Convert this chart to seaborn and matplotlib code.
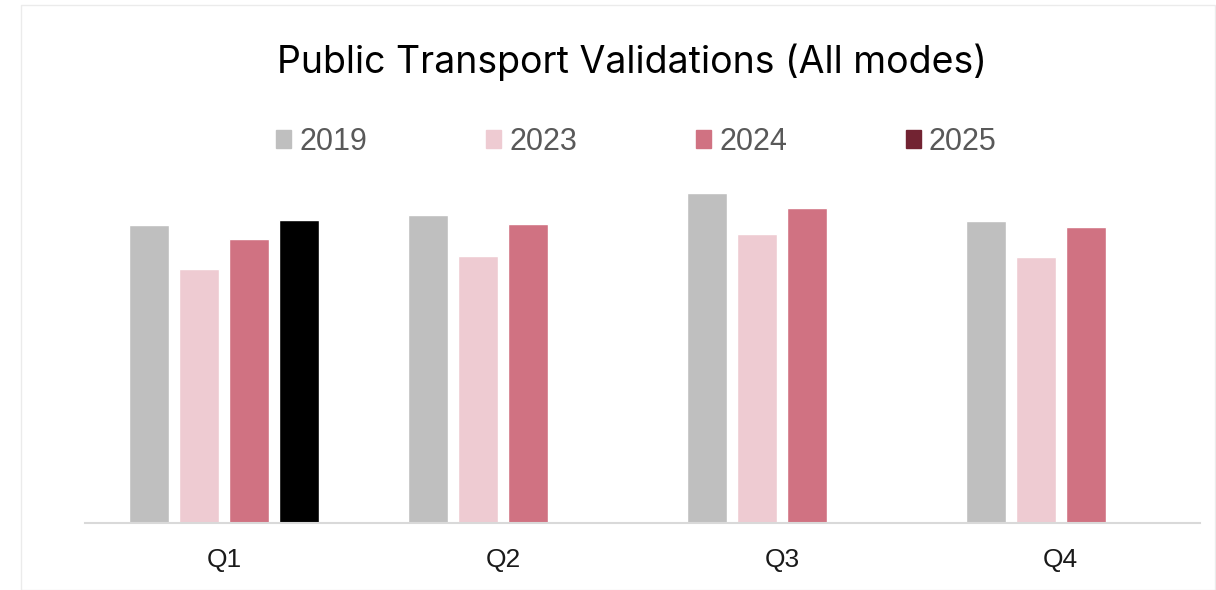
import numpy as np
import pandas as pd
import matplotlib.pyplot as plt
import matplotlib.patches as mpatches
import seaborn as sns

# datos (unidades arbitrarias, sin eje y visible)
trimestres = ['Q1', 'Q2', 'Q3', 'Q4']
anios = ['2019', '2023', '2024', '2025']
v2019 = [298, 308, 330, 302]
v2023 = [254, 267, 289, 266]
v2024 = [284, 299, 315, 296]
v2025 = [303, np.nan, np.nan, np.nan]

colores = {'2019': '#BFBFBF', '2023': '#EECBD2', '2024': '#D07282', '2025': '#722332'}

filas = []
for anio, vals in zip(anios, [v2019, v2023, v2024, v2025]):
    for q, v in zip(trimestres, vals):
        filas.append({'trimestre': q, 'anio': anio, 'valor': v})
df = pd.DataFrame(filas)

sns.set_theme(style='white')
plt.rcParams['font.family'] = ['Inter', 'DejaVu Sans']

fig = plt.figure(figsize=(12.16, 5.90), dpi=100)
ax = fig.add_axes([85 / 1216, 67 / 590, 1115 / 1216, 343 / 590])

sns.barplot(data=df, x='trimestre', y='valor', hue='anio', hue_order=anios,
            order=trimestres, palette=colores, width=0.717, gap=0.2,
            ax=ax, legend=False, saturation=1)

# la barra 2025 aparece en negro en el original
for p in ax.containers[3]:
    p.set_facecolor('black')

ax.set_ylim(0, 343)
ax.set_xlim(-0.5, 3.5)
ax.set_xlabel('')
ax.set_ylabel('')
ax.set_yticks([])
for s in ['top', 'right', 'left']:
    ax.spines[s].set_visible(False)
ax.spines['bottom'].set_color('#D9D9D9')
ax.spines['bottom'].set_linewidth(1.5)
ax.tick_params(axis='x', length=0, pad=18, labelcolor='#1a1a1a')
for lbl in ax.get_xticklabels():
    lbl.set_fontfamily('Liberation Sans')
    lbl.set_fontsize(19)

handles = [mpatches.Patch(color=colores[a], label=a) for a in anios]
fig.legend(handles=handles, loc='center', bbox_to_anchor=(0.5234, 1 - 142 / 590),
           ncol=4, frameon=False, handlelength=0.5, handleheight=0.52,
           handletextpad=0.25, columnspacing=3.9,
           prop={'family': 'Liberation Sans', 'size': 22}, labelcolor='#595959')

fig.text(0.52, 1 - 73 / 590, 'Public Transport Validations (All modes)',
         ha='center', va='baseline', fontsize=27, color='black')

# borde tenue del recuadro
fig.patches.append(mpatches.Rectangle((21 / 1216, 0), 1194 / 1216, 585 / 590,
                                      transform=fig.transFigure, fill=False,
                                      edgecolor='#EBEBEB', linewidth=1))

plt.savefig('out.png', dpi=100)
